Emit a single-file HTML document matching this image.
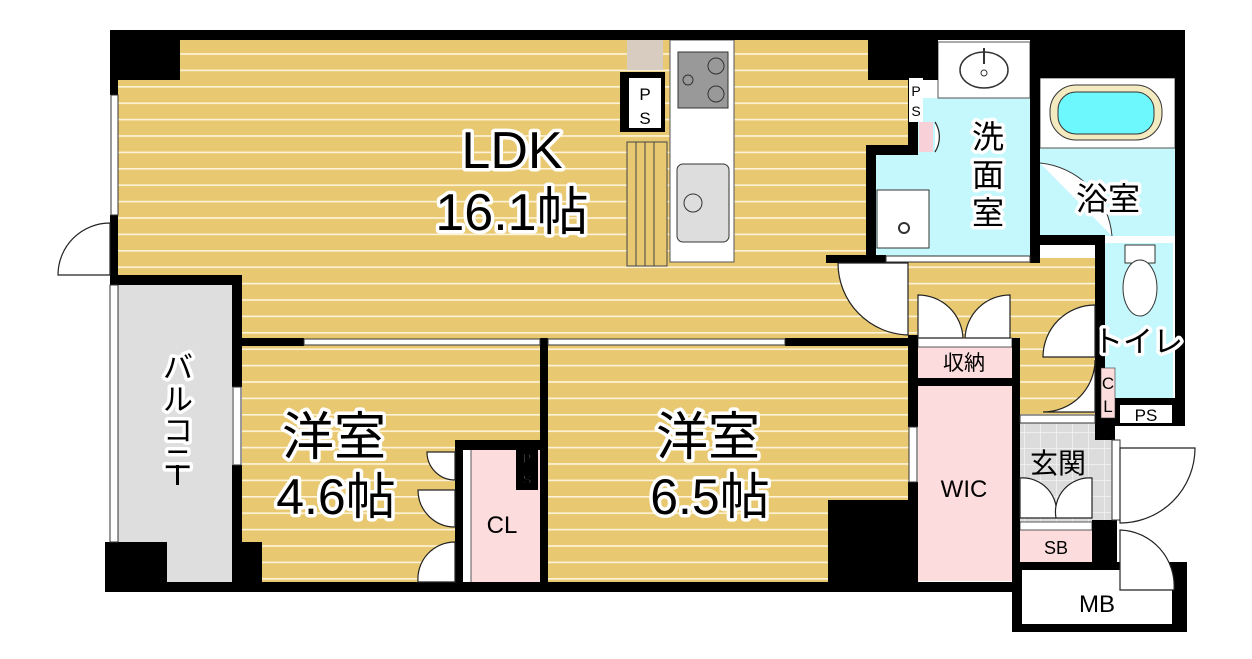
<!DOCTYPE html>
<html><head><meta charset="utf-8"><style>
html,body{margin:0;padding:0;background:#fff;}
svg{display:block}
text{font-family:"Liberation Sans","Noto Sans CJK JP",sans-serif;}
.lbl{fill:#000;stroke:#fff;stroke-width:7px;paint-order:stroke;stroke-linejoin:round}
</style></head><body>
<svg width="1252" height="659" viewBox="0 0 1252 659" xmlns="http://www.w3.org/2000/svg">
<defs>
<pattern id="fl" width="20" height="16.4" patternUnits="userSpaceOnUse" y="4">
<rect width="20" height="16.4" fill="#e8c972"/>
<rect y="0" width="20" height="1.6" fill="#fff4d8"/>
</pattern>
<pattern id="tile" width="16" height="16" patternUnits="userSpaceOnUse">
<rect width="16" height="16" fill="#dcdcdc"/>
<path d="M0 0H16M0 0V16" stroke="#f4f4f4" stroke-width="1.5"/>
</pattern>
</defs>
<!-- floors -->
<rect x="118" y="38" width="790" height="304" fill="url(#fl)"/>
<rect x="830" y="258" width="265" height="165" fill="url(#fl)"/>
<rect x="242" y="345" width="298" height="242" fill="url(#fl)"/>
<rect x="548" y="345" width="362" height="242" fill="url(#fl)"/>
<rect x="118" y="280" width="114" height="310" fill="#dedede"/>
<!-- wash room -->
<rect x="876" y="155" width="154" height="103" fill="#c4f8fc"/>
<rect x="918" y="98" width="112" height="60" fill="#c4f8fc"/>
<rect x="938" y="42" width="92" height="56" fill="#fff" stroke="#555"/>
<ellipse cx="984" cy="70" rx="24" ry="18" fill="#fff" stroke="#333" stroke-width="1.5"/>
<line x1="984" y1="48" x2="984" y2="64" stroke="#333" stroke-width="2"/>
<circle cx="984" cy="73" r="3" fill="none" stroke="#333"/>
<rect x="877" y="190" width="52" height="58" fill="#fff" stroke="#333"/>
<circle cx="904" cy="228" r="5" fill="none" stroke="#333" stroke-width="2"/>
<rect x="919" y="122" width="14" height="30" fill="#f8d0d8"/>
<!-- bath -->
<rect x="1040" y="78" width="135" height="158" fill="#c4f8fc"/>
<rect x="1040" y="78" width="135" height="70" fill="#fff" stroke="#555"/>
<rect x="1050" y="85" width="112" height="55" rx="26" fill="#f4eac0" stroke="#333"/>
<rect x="1058" y="92" width="96" height="42" rx="18" fill="#6cf8fc" stroke="#333"/>
<path d="M1040 163 A80 80 0 0 1 1112 236" fill="#fff" stroke="#333"/>
<!-- toilet -->
<rect x="1105" y="243" width="68" height="155" fill="#c4f8fc"/>
<rect x="1125" y="245" width="30" height="18" fill="#fff" stroke="#333"/>
<ellipse cx="1140" cy="288" rx="17" ry="28" fill="#fff" stroke="#333"/>
<!-- genkan -->
<rect x="1020" y="422" width="92" height="100" fill="url(#tile)"/>
<rect x="1020" y="522" width="72" height="40" fill="#fcdcdc"/>
<rect x="1020" y="522" width="72" height="8" fill="#fff" stroke="#333" stroke-width="0.8"/>
<!-- WIC / storage -->
<rect x="918" y="340" width="94" height="40" fill="#fcdcdc"/>
<rect x="918" y="385" width="94" height="196" fill="#fcdcdc"/>
<rect x="918" y="338" width="94" height="9" fill="#fff" stroke="#333" stroke-width="0.8"/>
<!-- CL bedroom -->
<rect x="462" y="448" width="78" height="138" fill="#fcdcdc"/>
<rect x="462" y="448" width="9" height="138" fill="#fff" stroke="#333" stroke-width="0.8"/>
<!-- kitchen -->
<rect x="627" y="40" width="36" height="30" fill="#d8ccc0"/>
<rect x="670" y="40" width="64" height="222" fill="#fff" stroke="#555"/>
<rect x="678" y="52" width="50" height="56" fill="#999" stroke="#333"/>
<circle cx="716" cy="66" r="8" fill="none" stroke="#333"/>
<circle cx="716" cy="94" r="8" fill="none" stroke="#333"/>
<circle cx="688" cy="80" r="5" fill="none" stroke="#333"/>
<rect x="677" y="164" width="52" height="78" rx="6" fill="#ddd" stroke="#333"/>
<circle cx="693" cy="203" r="9" fill="none" stroke="#333"/>
<rect x="627" y="142" width="40" height="124" fill="#e8c972" stroke="#444"/>
<path d="M636 142V266M645 142V266M654 142V266" stroke="#444"/>
<rect x="620" y="72" width="45" height="60" fill="#000"/>
<rect x="629" y="78" width="32" height="50" fill="#fff"/>
<text x="645" y="100" font-size="17" text-anchor="middle">P</text>
<text x="645" y="124" font-size="17" text-anchor="middle">S</text>
<!-- walls -->
<g fill="#000">
<rect x="110" y="30" width="1075" height="10"/>
<rect x="110" y="30" width="70" height="50"/>
<rect x="868" y="30" width="70" height="50"/>
<rect x="1030" y="30" width="155" height="48"/>
<rect x="1030" y="78" width="10" height="185"/>
<rect x="1175" y="30" width="10" height="395"/>
<rect x="110" y="40" width="8" height="55"/>
<rect x="110" y="215" width="8" height="60"/>
<rect x="110" y="275" width="132" height="10"/>
<rect x="232" y="275" width="10" height="112"/>
<rect x="232" y="465" width="10" height="125"/>
<rect x="105" y="542" width="62" height="50"/>
<rect x="232" y="542" width="30" height="50"/>
<rect x="110" y="582" width="910" height="10"/>
<rect x="232" y="338" width="72" height="8"/>
<rect x="540" y="338" width="8" height="250"/>
<rect x="785" y="338" width="125" height="8"/>
<rect x="828" y="500" width="82" height="90"/>
<rect x="908" y="335" width="10" height="92"/>
<rect x="908" y="482" width="10" height="108"/>
<rect x="908" y="378" width="112" height="8"/>
<rect x="1012" y="338" width="8" height="250"/>
<rect x="866" y="153" width="10" height="105"/>
<rect x="826" y="255" width="60" height="8"/>
<rect x="908" y="80" width="10" height="75"/>
<rect x="866" y="145" width="52" height="10"/>
<rect x="1030" y="235" width="75" height="10"/>
<rect x="1095" y="243" width="10" height="180"/>
<rect x="1095" y="398" width="90" height="28"/>
<rect x="1095" y="420" width="20" height="20"/>
<rect x="455" y="440" width="85" height="10"/>
<rect x="455" y="440" width="8" height="148"/>
<rect x="1092" y="520" width="25" height="50"/>
<rect x="1012" y="562" width="175" height="70"/>
</g>
<!-- PS labels in walls -->
<rect x="909" y="78" width="14" height="44" fill="#fff"/>
<text x="916" y="96" font-size="14" text-anchor="middle">P</text>
<text x="916" y="116" font-size="14" text-anchor="middle">S</text>
<rect x="516" y="446" width="22" height="44" fill="#000"/>
<text x="527" y="463" font-size="13" text-anchor="middle" fill="#fff" stroke="#000">P</text>
<text x="527" y="484" font-size="13" text-anchor="middle" fill="#fff" stroke="#000">S</text>
<rect x="1101" y="368" width="14" height="50" fill="#fcdcdc" stroke="#333" stroke-width="0.6"/>
<text x="1108" y="389" font-size="17" text-anchor="middle">C</text>
<text x="1108" y="412" font-size="17" text-anchor="middle">L</text>
<rect x="1120" y="405" width="52" height="18" fill="#fff"/>
<text x="1146" y="421" font-size="17" text-anchor="middle">PS</text>
<!-- MB box -->
<rect x="1022" y="570" width="150" height="54" fill="#fff"/>
<text x="1097" y="612" font-size="24" text-anchor="middle">MB</text>
<!-- sliding doors / windows -->
<g fill="#fff" stroke="#333" stroke-width="1">
<rect x="304" y="339" width="236" height="6"/>
<rect x="548" y="339" width="237" height="6"/>
<rect x="111" y="95" width="7" height="120"/>
<rect x="233" y="387" width="8" height="78"/>
<rect x="909" y="427" width="8" height="55"/>
<rect x="110" y="285" width="8" height="257"/>
<rect x="886" y="256" width="144" height="6"/>
<rect x="1020" y="415" width="75" height="8"/>
<rect x="1112" y="440" width="8" height="80"/>
</g>
<!-- door swings -->
<g fill="#fff" stroke="#222" stroke-width="1.2">
<path d="M110 275 H58 A52 52 0 0 1 110 223Z"/>
<path d="M838 263 A72 72 0 0 0 908 335 V263Z"/>
<path d="M918 295 A45 45 0 0 1 963 338 H918Z"/>
<path d="M1010 295 A45 45 0 0 0 965 338 H1010Z"/>
<path d="M1095 305 A52 52 0 0 0 1043 357 H1095Z"/>
<path d="M1095 360 A52 52 0 0 1 1043 412 H1095Z"/>
<path d="M455 452 H427 A28 28 0 0 0 455 480Z"/>
<path d="M455 490 H418 A37 37 0 0 0 455 527Z"/>
<path d="M455 542 A37 37 0 0 0 418 582 H455Z"/>
<path d="M1020 478 A34 34 0 0 1 1056 518 H1020Z"/>
<path d="M1092 478 A34 34 0 0 0 1056 518 H1092Z"/>
<path d="M1120 448 H1195 A75 75 0 0 1 1120 523Z"/>
<path d="M1120 530 A56 56 0 0 1 1174 590 H1120Z"/>
<path d="M935 122 A28 28 0 0 1 935 152"/>
</g>
<!-- labels -->
<text class="lbl" x="512" y="168" font-size="52" text-anchor="middle">LDK</text>
<text class="lbl" x="512" y="230" font-size="52" text-anchor="middle">16.1帖</text>
<text class="lbl" x="334" y="455" font-size="52" text-anchor="middle">洋室</text>
<text class="lbl" x="336" y="514" font-size="50" text-anchor="middle">4.6帖</text>
<text class="lbl" x="708" y="455" font-size="52" text-anchor="middle">洋室</text>
<text class="lbl" x="710" y="514" font-size="50" text-anchor="middle">6.5帖</text>
<text class="lbl" x="988" y="148" font-size="32" text-anchor="middle">洗</text>
<text class="lbl" x="988" y="186" font-size="32" text-anchor="middle">面</text>
<text class="lbl" x="988" y="224" font-size="32" text-anchor="middle">室</text>
<text class="lbl" x="1108" y="210" font-size="32" text-anchor="middle">浴室</text>
<text class="lbl" x="1138" y="352" font-size="30" text-anchor="middle">トイレ</text>
<text x="964" y="370" font-size="21" text-anchor="middle">収納</text>
<text x="964" y="497" font-size="24" text-anchor="middle">WIC</text>
<text x="1058" y="473" font-size="28" text-anchor="middle">玄関</text>
<text x="1056" y="554" font-size="18" text-anchor="middle">SB</text>
<text x="502" y="533" font-size="24" text-anchor="middle">CL</text>
<g font-size="30" text-anchor="middle" class="lbl">
<text x="178" y="378">バ</text>
<text x="178" y="410">ル</text>
<text x="178" y="441">コ</text>
<text x="178" y="470">ニ</text>
</g>
<rect x="176" y="465" width="3" height="20" fill="#000"/>
</svg>
</body></html>
